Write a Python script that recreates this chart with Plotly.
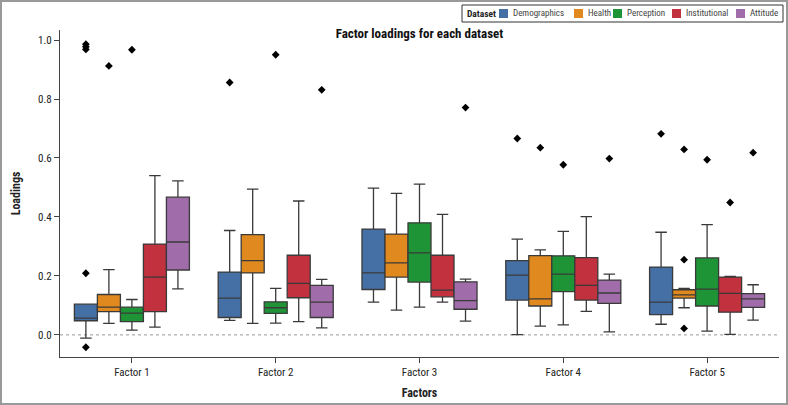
import plotly.graph_objects as go

factors = ["Factor 1", "Factor 2", "Factor 3", "Factor 4", "Factor 5"]
datasets = ["Demographics", "Health", "Perception", "Institutional", "Attitude"]
colors = ["#4470A6", "#E0891F", "#1E9436", "#C1313E", "#A06CAA"]

# per dataset, values for Factor 1..5
lower_fence = [
    [-0.011, 0.049, 0.111, 0.001, 0.036],
    [0.039, 0.039, 0.084, 0.030, 0.092],
    [0.016, 0.040, 0.094, 0.034, 0.013],
    [0.026, 0.045, 0.111, 0.080, 0.002],
    [0.156, 0.024, 0.047, 0.010, 0.050],
]
q1 = [
    [0.048, 0.059, 0.154, 0.118, 0.069],
    [0.079, 0.210, 0.196, 0.098, 0.125],
    [0.045, 0.073, 0.179, 0.147, 0.098],
    [0.079, 0.126, 0.129, 0.118, 0.077],
    [0.220, 0.059, 0.087, 0.107, 0.093],
]
median = [
    [0.057, 0.125, 0.210, 0.203, 0.111],
    [0.094, 0.252, 0.244, 0.122, 0.136],
    [0.074, 0.092, 0.278, 0.206, 0.155],
    [0.196, 0.175, 0.152, 0.168, 0.141],
    [0.315, 0.111, 0.116, 0.142, 0.122],
]
q3 = [
    [0.104, 0.213, 0.359, 0.252, 0.230],
    [0.137, 0.340, 0.342, 0.269, 0.153],
    [0.094, 0.112, 0.380, 0.268, 0.261],
    [0.308, 0.270, 0.270, 0.262, 0.196],
    [0.467, 0.168, 0.180, 0.186, 0.140],
]
upper_fence = [
    [0.104, 0.354, 0.498, 0.325, 0.348],
    [0.221, 0.494, 0.480, 0.288, 0.158],
    [0.120, 0.158, 0.511, 0.351, 0.374],
    [0.540, 0.454, 0.409, 0.401, 0.198],
    [0.522, 0.188, 0.189, 0.206, 0.170],
]
outlier_factor = [
    ["Factor 1", "Factor 1", "Factor 1", "Factor 1", "Factor 1", "Factor 2", "Factor 4", "Factor 5"],
    ["Factor 1", "Factor 4", "Factor 5", "Factor 5", "Factor 5"],
    ["Factor 1", "Factor 2", "Factor 4", "Factor 5"],
    ["Factor 5"],
    ["Factor 2", "Factor 3", "Factor 4", "Factor 5"],
]
outlier_value = [
    [0.986, 0.977, 0.968, 0.209, -0.042, 0.856, 0.666, 0.682],
    [0.912, 0.635, 0.629, 0.255, 0.022],
    [0.967, 0.950, 0.577, 0.594],
    [0.449],
    [0.831, 0.771, 0.598, 0.618],
]

FONT = "Liberation Sans Narrow, Arial Narrow, Roboto Condensed, Roboto, sans-serif"

fig = go.Figure()
for i, name in enumerate(datasets):
    fig.add_trace(go.Box(
        name=name, x=factors,
        q1=q1[i], median=median[i], q3=q3[i],
        lowerfence=lower_fence[i], upperfence=upper_fence[i],
        fillcolor=colors[i], line=dict(color="#3a3a3a", width=1.3),
        whiskerwidth=0.5, boxpoints=False,
        offsetgroup=name, showlegend=False,
    ))
for i, name in enumerate(datasets):
    fig.add_trace(go.Scatter(
        x=outlier_factor[i], y=outlier_value[i], mode="markers",
        marker=dict(symbol="diamond", size=6, color="black"),
        offsetgroup=name, showlegend=False, name=name,
        hoverinfo="y",
    ))

W, H = 788, 405
ml, mr, mt, mb = 60, 9, 30, 48
pw, ph = W - ml - mr, H - mt - mb


def px_x(px):
    return (px - ml) / pw


def px_y(py):
    return (H - mb - py) / ph


shapes = [
    dict(type="line", xref="paper", yref="y", x0=0, x1=1, y0=0, y1=0,
         line=dict(color="#999", width=1, dash="3px,3px"), layer="below"),
    dict(type="rect", xref="paper", yref="paper",
         x0=px_x(1), x1=px_x(W - 1), y0=px_y(H - 1), y1=px_y(1),
         line=dict(color="#999", width=2)),
    # legend frame
    dict(type="rect", xref="paper", yref="paper",
         x0=px_x(462), x1=px_x(783), y0=px_y(22), y1=px_y(5),
         line=dict(color="#333", width=1), fillcolor="white"),
]
annotations = [
    dict(text="<b>Dataset</b>", xref="paper", yref="paper", x=px_x(465), y=px_y(13.5),
         xanchor="left", yanchor="middle", showarrow=False,
         font=dict(size=9.5, family=FONT, color="#222")),
]
swatch_left = [499, 574, 613, 672, 736]
for i, name in enumerate(datasets):
    sx = swatch_left[i]
    shapes.append(dict(type="rect", xref="paper", yref="paper",
                       x0=px_x(sx), x1=px_x(sx + 9), y0=px_y(18), y1=px_y(9),
                       line=dict(width=0), fillcolor=colors[i]))
    annotations.append(dict(text=name, xref="paper", yref="paper", x=px_x(sx + 12),
                            y=px_y(13.5), xanchor="left", yanchor="middle",
                            showarrow=False,
                            font=dict(size=9, family=FONT, color="#444")))

fig.update_layout(
    width=W, height=H,
    margin=dict(l=ml, r=mr, t=mt, b=mb, autoexpand=False),
    paper_bgcolor="white", plot_bgcolor="white",
    font=dict(family=FONT, size=11, color="#222"),
    showlegend=False,
    boxmode="group", boxgap=0.2, boxgroupgap=0,
    scattermode="group", scattergap=0.2,
    title=dict(text="<b>Factor loadings for each dataset</b>", x=0.5, xref="paper",
               y=1 - 33 / H, yanchor="middle", xanchor="center",
               font=dict(size=13, family=FONT, color="#111")),
    xaxis=dict(type="category", range=[-0.5, 4.5], showline=True, linecolor="#444",
               linewidth=1, ticks="outside", ticklen=5, tickcolor="#444",
               showgrid=False, zeroline=False, automargin=False,
               title=dict(text="<b>Factors</b>", font=dict(size=12), standoff=10)),
    yaxis=dict(range=[-0.075, 1.034], showline=True, linecolor="#444", linewidth=1,
               ticks="outside", ticklen=5, tickcolor="#444", tickformat=".1f",
               tickvals=[0, 0.2, 0.4, 0.6, 0.8, 1.0],
               showgrid=False, zeroline=False, automargin=False,
               title=dict(text="<b>Loadings</b>", font=dict(size=12), standoff=14)),
    shapes=shapes,
    annotations=annotations,
)

fig.write_html("out.html", config={"displayModeBar": False},
               post_script="document.body.style.margin='0px';document.body.style.overflow='hidden';")
